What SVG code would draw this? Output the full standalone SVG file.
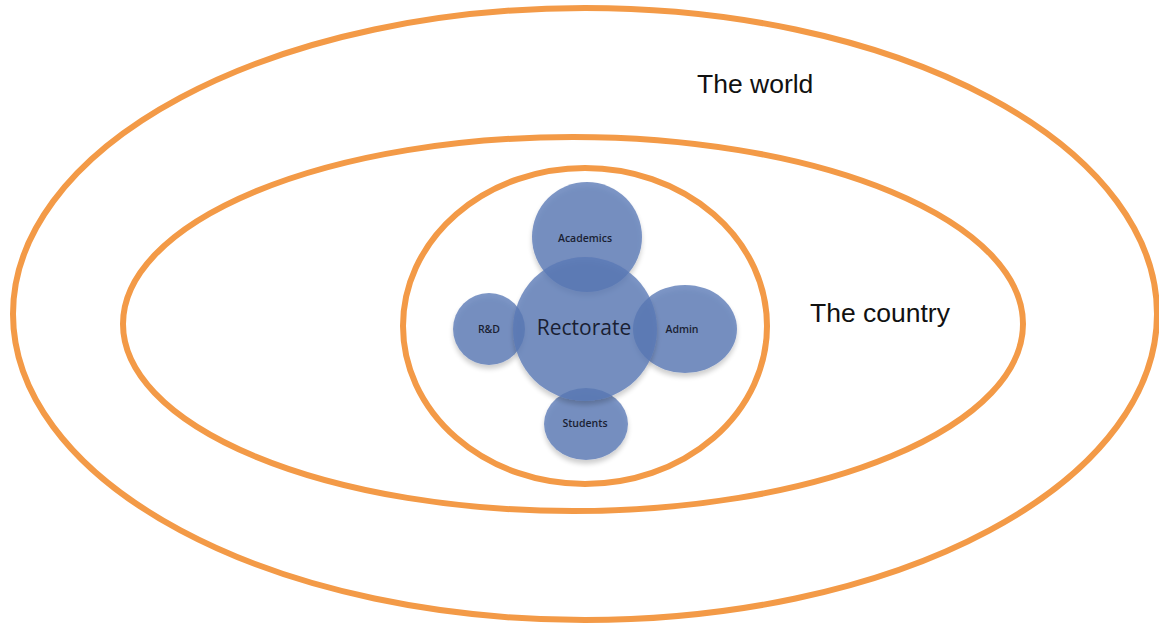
<svg xmlns="http://www.w3.org/2000/svg" width="1159" height="625" viewBox="0 0 1159 625">
  <style>
    .ring { fill: none; stroke: #f39a47; stroke-width: 6; }
    .bub { fill: #5a78b6; fill-opacity: 0.78; filter: url(#sh); }
    .big { font-family: "Liberation Sans", Arial, sans-serif; font-size: 26.5px; fill: #111; }
    .lbl { font-family: "Open Sans", "Liberation Sans", sans-serif; font-size: 10.5px; font-weight: 600; fill: #1a1f33; text-anchor: middle; }
    .ctr { font-family: "Open Sans", "Liberation Sans", sans-serif; font-size: 21px; fill: #1a1f33; text-anchor: middle; }
  </style>
  <defs>
    <filter id="sh" x="-20%" y="-20%" width="140%" height="150%">
      <feGaussianBlur in="SourceAlpha" stdDeviation="2.5"/>
      <feOffset dx="0" dy="4" result="b"/>
      <feComponentTransfer><feFuncA type="linear" slope="0.25"/></feComponentTransfer>
      <feMerge><feMergeNode/><feMergeNode in="SourceGraphic"/></feMerge>
    </filter>
  </defs>
  <rect width="1159" height="625" fill="#ffffff"/>
  <g id="world">
    <ellipse class="ring" cx="585" cy="314" rx="572" ry="306"/>
    <text class="big" x="697" y="93">The world</text>
  </g>
  <g id="country">
    <ellipse class="ring" cx="573" cy="324" rx="450" ry="187"/>
    <text class="big" x="810" y="322">The country</text>
  </g>
  <g id="university">
    <ellipse class="ring" cx="585" cy="326" rx="182" ry="158"/>
  </g>
  <g id="academics">
    <circle class="bub" cx="587" cy="237" r="55"/>
    <text class="lbl" x="585" y="242">Academics</text>
  </g>
  <g id="rnd">
    <circle class="bub" cx="489" cy="329" r="36"/>
    <text class="lbl" x="489" y="333">R&amp;D</text>
  </g>
  <g id="admin">
    <ellipse class="bub" cx="685" cy="329" rx="52" ry="44"/>
    <text class="lbl" x="682" y="333">Admin</text>
  </g>
  <g id="students">
    <ellipse class="bub" cx="586" cy="424" rx="42" ry="36"/>
    <text class="lbl" x="585" y="427">Students</text>
  </g>
  <g id="rectorate">
    <circle class="bub" cx="585" cy="329" r="72"/>
    <text class="ctr" x="584" y="335">Rectorate</text>
  </g>
</svg>
